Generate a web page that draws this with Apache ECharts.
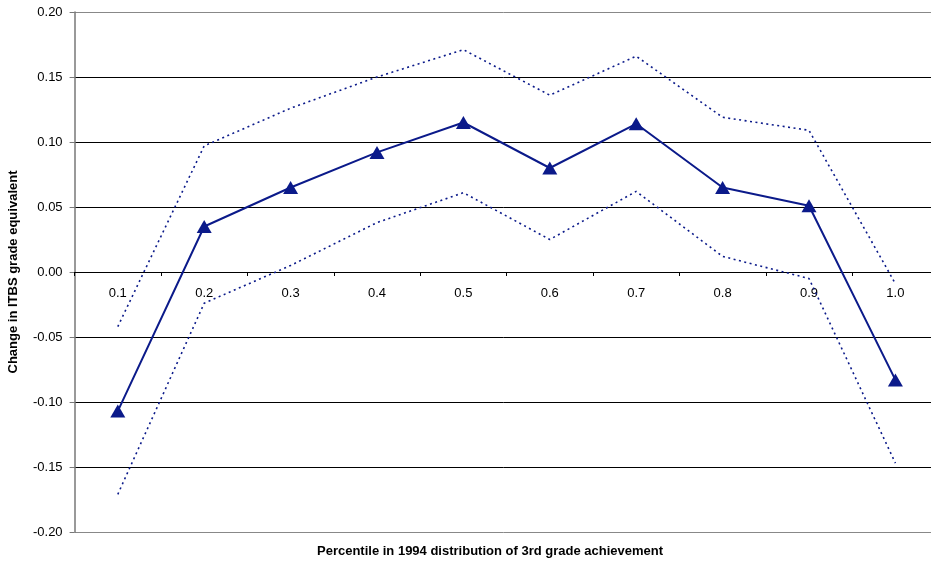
<!DOCTYPE html>
<html>
<head>
<meta charset="utf-8">
<script src="https://cdn.jsdelivr.net/npm/echarts@6/dist/echarts.min.js"></script>
<style>
html,body{margin:0;padding:0;background:#fff;}
#c{width:931px;height:569px;}
</style>
</head>
<body>
<div id="c"></div>
<script>
const categories = ['0.1','0.2','0.3','0.4','0.5','0.6','0.7','0.8','0.9','1.0'];
const estimate = [-0.107, 0.035, 0.065, 0.092, 0.115, 0.080, 0.114, 0.065, 0.051, -0.083];
const upperBound = [-0.042, 0.097, 0.126, 0.150, 0.171, 0.136, 0.166, 0.119, 0.109, -0.009];
const lowerBound = [-0.171, -0.024, 0.005, 0.038, 0.061, 0.025, 0.062, 0.012, -0.005, -0.147];
const yTicks = {min: -0.2, max: 0.2, interval: 0.05};

const navy = '#0B1A8A';
const font = 'Liberation Sans, Arial, sans-serif';
const chart = echarts.init(document.getElementById('c'), null, {renderer: 'canvas'});
chart.setOption({
  animation: false,
  backgroundColor: '#fff',
  grid: {left: 74.6, top: 12, width: 864, height: 520, containLabel: false, outerBoundsMode: 'none'},
  xAxis: {
    type: 'category',
    data: categories,
    boundaryGap: true,
    position: 'bottom',
    offset: -260,
    axisLine: {onZero: false, lineStyle: {color: '#000', width: 1}},
    axisTick: {show: true, alignWithLabel: false, length: 4, lineStyle: {color: '#000'}},
    axisLabel: {color: '#000', fontFamily: font, fontSize: 13, margin: 15},
    splitLine: {show: false}
  },
  yAxis: {
    type: 'value',
    min: yTicks.min, max: yTicks.max, interval: yTicks.interval,
    name: 'Change in ITBS grade equivalent',
    nameLocation: 'middle',
    nameGap: 55,
    nameRotate: 90,
    nameTextStyle: {color: '#000', fontFamily: font, fontSize: 13, fontWeight: 'bold'},
    axisLine: {show: true, lineStyle: {color: '#777', width: 1.5}},
    axisTick: {show: true, inside: false, length: 5, lineStyle: {color: '#777'}},
    axisLabel: {color: '#000', fontFamily: font, fontSize: 13, margin: 12,
      formatter: v => v.toFixed(2)},
    splitLine: {show: true, lineStyle: {color: ['#888','#000','#000','#000','#000','#000','#000','#000','#888'], width: 1}}
  },
  graphic: [{
    type: 'text',
    x: 490, y: 551,
    style: {text: 'Percentile in 1994 distribution of 3rd grade achievement',
      fill: '#000', font: 'bold 13px ' + font, align: 'center', verticalAlign: 'middle'}
  }],
  series: [
    {
      type: 'line', data: upperBound, symbol: 'none', z: 2,
      lineStyle: {color: navy, width: 1.6, type: [2, 3.5]}
    },
    {
      type: 'line', data: lowerBound, symbol: 'none', z: 2,
      lineStyle: {color: navy, width: 1.6, type: [2, 3.5]}
    },
    {
      type: 'line', data: estimate, z: 3,
      symbol: 'triangle', symbolSize: [15, 13],
      itemStyle: {color: navy},
      lineStyle: {color: navy, width: 2}
    }
  ]
});
</script>
</body>
</html>
